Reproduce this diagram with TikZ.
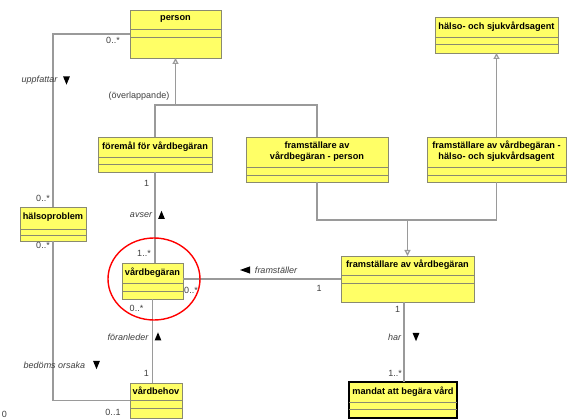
\documentclass[tikz,border=0pt]{standalone}
\usepackage{fontspec}
\setmainfont{Liberation Sans}
\usetikzlibrary{arrows.meta}
\definecolor{clsfill}{HTML}{FFFF66}
\definecolor{clsedge}{HTML}{8A8A70}
\definecolor{wire}{HTML}{9A9A9A}
\definecolor{lbl}{HTML}{404040}
\tikzset{
  cls/.style={draw=clsedge, fill=clsfill, line width=0.9pt, inner sep=0pt, outer sep=0pt, rectangle},
  clsbold/.style={cls, draw=black, line width=1.3pt},
  clstitle/.style={inner sep=0pt, align=center, font=\fontsize{9.2}{11}\selectfont\bfseries, text=black},
  compart/.style={draw=clsedge, line width=0.9pt},
  conn/.style={draw=wire, line width=1.2pt},
  gen/.style={conn, -{Triangle[open, width=6pt, length=6pt, fill=white]}},
  mult/.style={inner sep=0pt, font=\fontsize{9}{11}\selectfont, text=lbl},
  role/.style={inner sep=0pt, font=\fontsize{9}{11}\selectfont\itshape, text=lbl},
  dirmark/.style={fill=black},
  callout/.style={draw=red, line width=1.4pt},
}
% \umlbox[style]{name}{x1}{y1}{x2}{y2}{compartment line 1}{compartment line 2}{title}
\newcommand{\umlbox}[9][cls]{%
  \node[#1, minimum width={(#5-#3)*1pt}, minimum height={(#6-#4)*1pt}, anchor=north west] (#2) at (#3,#4) {};
  \node[clstitle] (#2-title) at ({(#3+#5)/2},{(#4+#7)/2-0.8}) {#9};
  \draw[compart] (#2.west |- 0,#7) -- (#2.east |- 0,#7);
  \draw[compart] (#2.west |- 0,#8) -- (#2.east |- 0,#8);
}
\newcommand{\markdown}[2]{\fill[dirmark] (#1-3.4,#2-4) -- (#1+3.4,#2-4) -- (#1,#2+4.2) -- cycle;}
\newcommand{\markup}[2]{\fill[dirmark] (#1-3.4,#2+4) -- (#1+3.4,#2+4) -- (#1,#2-4.2) -- cycle;}
\newcommand{\markleft}[2]{\fill[dirmark] (#1+5,#2-3.6) -- (#1+5,#2+3.6) -- (#1-5,#2) -- cycle;}
\begin{document}
\begin{tikzpicture}[x=1pt, y=-1pt]
\useasboundingbox[fill=white] (0,0) rectangle (570,419);

% classes
\umlbox{person}{130}{10}{221}{58}{29}{37}{person}
\umlbox{agent}{435}{17}{558}{53}{37}{44}{hälso- och sjukvårdsagent}
\umlbox{foremal}{98}{137}{212}{172}{157}{164}{föremål för vårdbegäran}
\umlbox{fperson}{246}{137}{388}{182}{167}{175}{framställare av\\vårdbegäran - person}
\umlbox{fagent}{427}{137}{566}{182}{167}{175}{framställare av vårdbegäran -\\hälso- och sjukvårdsagent}
\umlbox{halsoproblem}{20}{207}{86}{241}{229}{235}{hälsoproblem}
\umlbox{vardbegaran}{122}{263}{183}{299}{283}{291}{vårdbegäran}
\umlbox{framst}{341}{256}{474}{302}{275}{283}{framställare av vårdbegäran}
\umlbox{vardbehov}{130}{383}{182}{418}{400}{408}{vårdbehov}
\umlbox[clsbold]{mandat}{349}{382}{457}{418}{402}{409}{mandat att begära vård}

% generalizations
\coordinate (gp) at (175.5,105);
\coordinate (gf) at (407.5,220);
\draw[conn] (foremal.north) |- (gp) -| (fperson.north);
\draw[gen] (gp) -- (person.south);
\draw[gen] (fagent.north) -- (agent.south);
\draw[conn] (fperson.south) |- (gf) -| (fagent.south);
\draw[gen] (gf) -- (framst.north);

% associations
\draw[conn] (person.west) -| (halsoproblem.north);
\draw[conn] (halsoproblem.south) |- (vardbehov.west);
\draw[conn] (foremal.south) -- (foremal.south |- vardbegaran.north);
\draw[conn] (vardbegaran.south) -- (vardbegaran.south |- vardbehov.north);
\draw[conn] (framst.west |- 0,279) -- (vardbegaran.east |- 0,279);
\draw[conn] (mandat.north -| 404,0) -- (framst.south -| 404,0);

% association labels
\node[mult] (m1) at (113,40) {0..*};
\node[role] (r1) at (39.5,80) {uppfattar};
\markdown{66.5}{80.5}
\node[mult] (ov) at (139,96) {(överlappande)};
\node[mult] (m2) at (146.7,183) {1};
\node[mult] (m3) at (43,198) {0..*};
\node[role] (r2) at (141,215) {avser};
\markup{161.5}{215}
\node[mult] (m4) at (144,253) {1..*};
\node[mult] (m5) at (43,245) {0..*};
\node[mult] (m6) at (191,290.5) {0..*};
\node[mult] (m7) at (136.5,308) {0..*};
\markleft{245}{270}
\node[role] (r3) at (276,270) {framställer};
\node[mult] (m8) at (319,288) {1};
\node[role] (r4) at (128,337) {föranleder};
\markup{158}{336.5}
\node[mult] (m9) at (146.5,373) {1};
\node[role] (r5) at (54.5,365) {bedöms orsaka};
\markdown{96.5}{365}
\node[mult] (m10) at (113,412) {0..1};
\node[mult] (m11) at (397.7,309) {1};
\node[role] (r6) at (394.5,337) {har};
\markdown{416}{337}
\node[mult] (m12) at (395,373) {1..*};
\node[mult] (stray) at (4.5,414) {0};

% highlight
\draw[callout] (154,279) ellipse [x radius=46pt, y radius=41pt];
\end{tikzpicture}
\end{document}
